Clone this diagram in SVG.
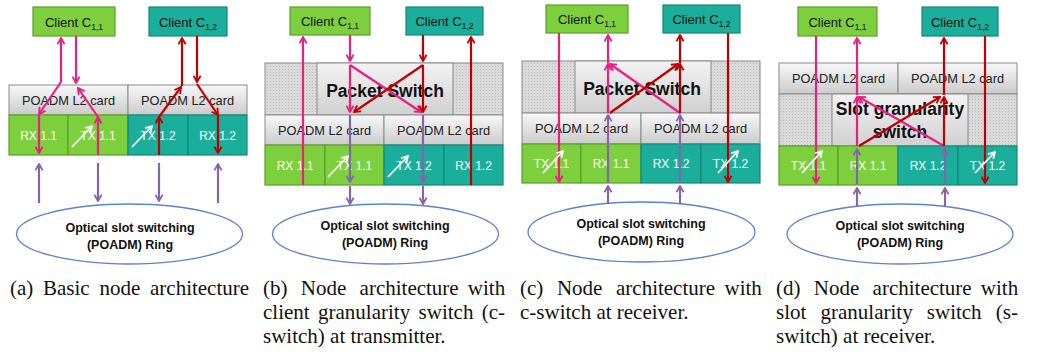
<svg xmlns="http://www.w3.org/2000/svg" width="1040" height="354" viewBox="0 0 1040 354">
<defs>
<linearGradient id="gcard" x1="0" y1="0" x2="0" y2="1"><stop offset="0" stop-color="#f8f8f8"/><stop offset="1" stop-color="#cbcbcb"/></linearGradient>
<linearGradient id="gsw" x1="0" y1="0" x2="0" y2="1"><stop offset="0" stop-color="#f3f3f3"/><stop offset="1" stop-color="#d0d0d0"/></linearGradient>
<pattern id="dots" width="3" height="3" patternUnits="userSpaceOnUse"><rect width="3" height="3" fill="#dadada"/><rect width="1" height="1" fill="#bcbcbc"/></pattern>
<marker id="ap" viewBox="0 0 10 10" refX="8.5" refY="5" markerUnits="userSpaceOnUse" markerWidth="9" markerHeight="9" orient="auto-start-reverse"><path d="M1.5,1 L8.5,5 L1.5,9" fill="none" stroke="#e8207f" stroke-width="2"/></marker>
<marker id="ar" viewBox="0 0 10 10" refX="8.5" refY="5" markerUnits="userSpaceOnUse" markerWidth="9" markerHeight="9" orient="auto-start-reverse"><path d="M1.5,1 L8.5,5 L1.5,9" fill="none" stroke="#c00000" stroke-width="2"/></marker>
<marker id="au" viewBox="0 0 10 10" refX="8.5" refY="5" markerUnits="userSpaceOnUse" markerWidth="9" markerHeight="9" orient="auto-start-reverse"><path d="M1.5,1 L8.5,5 L1.5,9" fill="none" stroke="#8466a8" stroke-width="2"/></marker>
<marker id="aw" viewBox="0 0 10 10" refX="8.5" refY="5" markerUnits="userSpaceOnUse" markerWidth="9" markerHeight="9" orient="auto"><path d="M1.5,1 L8.5,5 L1.5,9" fill="none" stroke="#ffffff" stroke-width="2"/></marker>
</defs>
<style>
.cg{fill:#7dcf3e;stroke:#5b9e2c;stroke-width:1.2}
.ct{fill:#1aae9b;stroke:#13877a;stroke-width:1.2}
.card{fill:url(#gcard);stroke:#8a8a8a;stroke-width:1}
.sw{fill:url(#gsw);stroke:#8a8a8a;stroke-width:1}
.tex{fill:url(#dots);stroke:#8a8a8a;stroke-width:1}
.ring{fill:#fff;stroke:#5b82cf;stroke-width:1.3}
text{font-family:"Liberation Sans",Arial,sans-serif;text-anchor:middle}
.lbl{font-size:13px;fill:#111}
.ctx{font-size:12.8px;fill:#222}
.rx{font-size:12px;fill:#fff}
.big{font-size:17.5px;font-weight:bold;fill:#111}
.rt{font-size:12.5px;font-weight:bold;fill:#111}
.cap{font-family:"Liberation Serif","Times New Roman",serif;font-size:21px;fill:#111;text-anchor:start}
.pk{stroke:#e8207f;stroke-width:2.2;fill:none;marker-end:url(#ap)}
.rd{stroke:#c00000;stroke-width:2.2;fill:none;marker-end:url(#ar)}
.pu{stroke:#8466a8;stroke-width:2.2;fill:none;marker-end:url(#au)}
.wh{stroke:#fff;stroke-width:1.8;fill:none;marker-end:url(#aw)}
</style>

<!-- Panel (a) -->
<g id="a-client11"><rect class="cg" x="33" y="7" width="82" height="29"/><text class="lbl" x="74" y="27">Client C<tspan font-size="8.5" dy="3">1,1</tspan></text></g>
<g id="a-client12"><rect class="ct" x="149" y="7" width="78" height="29"/><text class="lbl" x="188" y="27">Client C<tspan font-size="8.5" dy="3">1,2</tspan></text></g>
<g id="a-card1"><rect class="card" x="9" y="85" width="119" height="30"/><text class="ctx" x="68.5" y="105">POADM L2 card</text></g>
<g id="a-card2"><rect class="card" x="128" y="85" width="119" height="30"/><text class="ctx" x="187.5" y="105">POADM L2 card</text></g>
<g id="a-rx11"><rect class="cg" x="9" y="115" width="59" height="40"/><text class="rx" x="38.5" y="140">RX 1.1</text></g>
<g id="a-tx11"><rect class="cg" x="68" y="115" width="60" height="40"/><text class="rx" x="98" y="140">TX 1.1</text></g>
<g id="a-tx12"><rect class="ct" x="128" y="115" width="60" height="40"/><text class="rx" x="158" y="140">TX 1.2</text></g>
<g id="a-rx12"><rect class="ct" x="188" y="115" width="59" height="40"/><text class="rx" x="217.5" y="140">RX 1.2</text></g>
<g id="a-ring"><ellipse class="ring" cx="129.5" cy="234" rx="113" ry="30"/><text class="rt" x="130" y="232">Optical slot switching</text><text class="rt" x="130" y="249">(POADM) Ring</text></g>

<!-- Panel (b) -->
<g id="b-client11"><rect class="cg" x="290" y="7" width="80" height="28"/><text class="lbl" x="330" y="26">Client C<tspan font-size="8.5" dy="3">1,1</tspan></text></g>
<g id="b-client12"><rect class="ct" x="406" y="7" width="77" height="28"/><text class="lbl" x="444.5" y="26">Client C<tspan font-size="8.5" dy="3">1,2</tspan></text></g>
<g id="b-switch"><rect class="tex" x="265" y="63" width="238" height="52"/><rect class="sw" x="317" y="63" width="136" height="52"/><text class="big" x="385" y="97">Packet Switch</text></g>
<g id="b-card1"><rect class="card" x="265" y="115" width="119" height="30"/><text class="ctx" x="324.5" y="135">POADM L2 card</text></g>
<g id="b-card2"><rect class="card" x="384" y="115" width="119" height="30"/><text class="ctx" x="443.5" y="135">POADM L2 card</text></g>
<g id="b-rx11"><rect class="cg" x="265" y="145" width="60" height="40"/><text class="rx" x="295" y="170">RX 1.1</text></g>
<g id="b-tx11"><rect class="cg" x="325" y="145" width="59" height="40"/><text class="rx" x="354.5" y="170">TX 1.1</text></g>
<g id="b-tx12"><rect class="ct" x="384" y="145" width="60" height="40"/><text class="rx" x="414" y="170">TX 1.2</text></g>
<g id="b-rx12"><rect class="ct" x="444" y="145" width="59" height="40"/><text class="rx" x="473.5" y="170">RX 1.2</text></g>
<g id="b-ring"><ellipse class="ring" cx="385.5" cy="234" rx="113" ry="30"/><text class="rt" x="385" y="230">Optical slot switching</text><text class="rt" x="385" y="247">(POADM) Ring</text></g>

<!-- Panel (c) -->
<g id="c-client11"><rect class="cg" x="546" y="5" width="82" height="28"/><text class="lbl" x="587" y="24">Client C<tspan font-size="8.5" dy="3">1,1</tspan></text></g>
<g id="c-client12"><rect class="ct" x="663" y="5" width="77" height="28"/><text class="lbl" x="701.5" y="24">Client C<tspan font-size="8.5" dy="3">1,2</tspan></text></g>
<g id="c-switch"><rect class="tex" x="522" y="61" width="238" height="52"/><rect class="sw" x="575" y="61" width="136" height="52"/><text class="big" x="642" y="95">Packet Switch</text></g>
<g id="c-card1"><rect class="card" x="522" y="113" width="119" height="31"/><text class="ctx" x="581.5" y="133">POADM L2 card</text></g>
<g id="c-card2"><rect class="card" x="641" y="113" width="119" height="31"/><text class="ctx" x="700.5" y="133">POADM L2 card</text></g>
<g id="c-tx11"><rect class="cg" x="522" y="144" width="59" height="39"/><text class="rx" x="551.5" y="168">TX 1.1</text></g>
<g id="c-rx11"><rect class="cg" x="581" y="144" width="60" height="39"/><text class="rx" x="611" y="168">RX 1.1</text></g>
<g id="c-rx12"><rect class="ct" x="641" y="144" width="60" height="39"/><text class="rx" x="671" y="168">RX 1.2</text></g>
<g id="c-tx12"><rect class="ct" x="701" y="144" width="59" height="39"/><text class="rx" x="730.5" y="168">TX 1.2</text></g>
<g id="c-ring"><ellipse class="ring" cx="641.5" cy="232" rx="113.5" ry="30"/><text class="rt" x="641" y="228">Optical slot switching</text><text class="rt" x="641" y="245">(POADM) Ring</text></g>

<!-- Panel (d) -->
<g id="d-client11"><rect class="cg" x="798" y="7" width="79" height="29"/><text class="lbl" x="837.5" y="27">Client C<tspan font-size="8.5" dy="3">1,1</tspan></text></g>
<g id="d-client12"><rect class="ct" x="922" y="7" width="76" height="29"/><text class="lbl" x="960" y="27">Client C<tspan font-size="8.5" dy="3">1,2</tspan></text></g>
<g id="d-card1"><rect class="card" x="779" y="63" width="119" height="31"/><text class="ctx" x="838.5" y="83">POADM L2 card</text></g>
<g id="d-card2"><rect class="card" x="898" y="63" width="119" height="31"/><text class="ctx" x="957.5" y="83">POADM L2 card</text></g>
<g id="d-switch"><rect class="tex" x="779" y="94" width="238" height="52"/><rect class="sw" x="832" y="94" width="136" height="52"/><text class="big" x="900" y="115">Slot granularity</text><text class="big" x="900" y="138">switch</text></g>
<g id="d-tx11"><rect class="cg" x="779" y="146" width="59" height="39"/><text class="rx" x="808.5" y="170">TX 1.1</text></g>
<g id="d-rx11"><rect class="cg" x="838" y="146" width="60" height="39"/><text class="rx" x="868" y="170">RX 1.1</text></g>
<g id="d-rx12"><rect class="ct" x="898" y="146" width="60" height="39"/><text class="rx" x="928" y="170">RX 1.2</text></g>
<g id="d-tx12"><rect class="ct" x="958" y="146" width="59" height="39"/><text class="rx" x="987.5" y="170">TX 1.2</text></g>
<g id="d-ring"><ellipse class="ring" cx="900" cy="234" rx="113" ry="30"/><text class="rt" x="900" y="230">Optical slot switching</text><text class="rt" x="900" y="247">(POADM) Ring</text></g>

<!-- Connectors -->
<g id="connectors">
<!-- a -->
<path class="pk" d="M61,82 L61,38"/>
<path class="pk" d="M61,82 L39,114"/>
<path class="pk" d="M39,114 L39,153"/>
<path class="pk" d="M76,36 L76,83"/>
<path class="pk" d="M98,155 L98,117"/>
<path class="pk" d="M98,117 L78,88"/>
<path class="rd" d="M159,155 L159,117"/>
<path class="rd" d="M159,117 L181,87"/>
<path class="rd" d="M182,86 L182,38"/>
<path class="rd" d="M197,36 L197,82"/>
<path class="rd" d="M197,84 L218,115"/>
<path class="rd" d="M218,115 L218,153"/>
<path class="pu" d="M39,203 L39,164"/>
<path class="pu" d="M98,163 L98,201"/>
<path class="pu" d="M159,163 L159,201"/>
<path class="pu" d="M218,203 L218,164"/>
<path class="wh" d="M72,147 L92,126"/>
<path class="wh" d="M132,147 L152,126"/>
<!-- b -->
<path class="pk" d="M303,185 L303,37"/>
<path class="pk" d="M350,35 L350,61"/>
<path class="pk" d="M350,65 L350,112"/>
<path class="pk" d="M350,65 L421,112"/>
<path class="rd" d="M471,185 L471,37"/>
<path class="rd" d="M423,35 L423,61"/>
<path class="rd" d="M423,65 L423,112"/>
<path class="rd" d="M423,65 L354,112"/>
<path class="pu" d="M350,115 L350,182"/>
<path class="pu" d="M350,186 L350,204"/>
<path class="pu" d="M423,115 L423,182"/>
<path class="pu" d="M423,186 L423,204"/>
<path class="wh" d="M328,177 L348,156"/>
<path class="wh" d="M388,177 L408,156"/>
<!-- c -->
<path class="pk" d="M559,33 L559,182"/>
<path class="pk" d="M608,113 L608,64"/>
<path class="pk" d="M608,63 L608,35"/>
<path class="pk" d="M680,113 L610,64"/>
<path class="rd" d="M728,33 L728,182"/>
<path class="rd" d="M680,113 L680,64"/>
<path class="rd" d="M680,63 L680,35"/>
<path class="rd" d="M610,113 L678,64"/>
<path class="pu" d="M608,204 L608,186"/>
<path class="pu" d="M608,183 L608,115"/>
<path class="pu" d="M680,204 L680,186"/>
<path class="pu" d="M680,183 L680,115"/>
<path class="wh" d="M543,173 L563,151"/>
<path class="wh" d="M718,173 L738,151"/>
<!-- d -->
<path class="pk" d="M816,36 L816,183"/>
<path class="pk" d="M857,146 L857,97"/>
<path class="pk" d="M857,95 L857,38"/>
<path class="pk" d="M944,146 L859,97"/>
<path class="rd" d="M985,36 L985,183"/>
<path class="rd" d="M944,146 L944,97"/>
<path class="rd" d="M944,95 L944,38"/>
<path class="rd" d="M859,146 L940,97"/>
<path class="pu" d="M857,207 L857,188"/>
<path class="pu" d="M857,184 L857,149"/>
<path class="pu" d="M945,207 L945,188"/>
<path class="pu" d="M945,184 L945,149"/>
<path class="wh" d="M802,173 L822,151"/>
<path class="wh" d="M975,173 L995,152"/>
</g>

<!-- Captions -->
<g id="captions">
<text class="cap" y="295"><tspan x="10">(a)</tspan><tspan x="43">Basic</tspan><tspan x="99.5">node</tspan><tspan x="150">architecture</tspan></text>
<text class="cap" y="295"><tspan x="263">(b)</tspan><tspan x="300.8">Node</tspan><tspan x="359.6">architecture</tspan><tspan x="467.8">with</tspan></text>
<text class="cap" y="319"><tspan x="263">client</tspan><tspan x="318">granularity</tspan><tspan x="418.6">switch</tspan><tspan x="481.8">(c-</tspan></text>
<text class="cap" x="263" y="343">switch) at transmitter.</text>
<text class="cap" y="295"><tspan x="520">(c)</tspan><tspan x="556.9">Node</tspan><tspan x="616">architecture</tspan><tspan x="724.5">with</tspan></text>
<text class="cap" x="520" y="319">c-switch at receiver.</text>
<text class="cap" y="295"><tspan x="776">(d)</tspan><tspan x="813.8">Node</tspan><tspan x="872.6">architecture</tspan><tspan x="980.8">with</tspan></text>
<text class="cap" y="319"><tspan x="776">slot</tspan><tspan x="820.5">granularity</tspan><tspan x="926.8">switch</tspan><tspan x="995.8">(s-</tspan></text>
<text class="cap" x="776" y="343">switch) at receiver.</text>
</g>
</svg>
